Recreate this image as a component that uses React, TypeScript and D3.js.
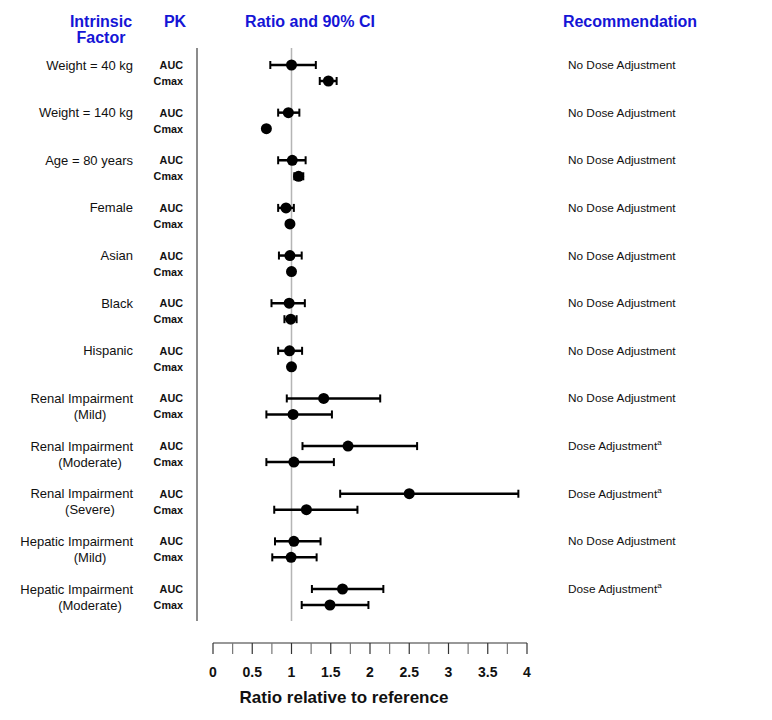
import React, { useEffect, useRef } from 'react';
import * as d3 from 'd3';

// Intrinsic factors (multi-line labels split by \n)
const factors = [
  'Weight = 40 kg',
  'Weight = 140 kg',
  'Age = 80 years',
  'Female',
  'Asian',
  'Black',
  'Hispanic',
  'Renal Impairment\n(Mild)',
  'Renal Impairment\n(Moderate)',
  'Renal Impairment\n(Severe)',
  'Hepatic Impairment\n(Mild)',
  'Hepatic Impairment\n(Moderate)',
];

const aucRatio = [1.0, 0.96, 1.01, 0.93, 0.98, 0.97, 0.975, 1.41, 1.72, 2.5, 1.03, 1.65];
const aucLow = [0.73, 0.83, 0.83, 0.83, 0.84, 0.745, 0.83, 0.94, 1.14, 1.62, 0.79, 1.26];
const aucHigh = [1.31, 1.1, 1.18, 1.03, 1.13, 1.17, 1.135, 2.13, 2.6, 3.89, 1.37, 2.17];

const cmaxRatio = [1.47, 0.68, 1.09, 0.98, 1.0, 0.99, 1.0, 1.02, 1.03, 1.19, 0.995, 1.49];
const cmaxLow = [1.36, 0.66, 1.035, 0.96, 0.97, 0.91, 0.97, 0.68, 0.68, 0.78, 0.755, 1.13];
const cmaxHigh = [1.575, 0.7, 1.15, 1.0, 1.02, 1.065, 1.02, 1.515, 1.54, 1.84, 1.32, 1.98];

const recommendations = [
  'No Dose Adjustment',
  'No Dose Adjustment',
  'No Dose Adjustment',
  'No Dose Adjustment',
  'No Dose Adjustment',
  'No Dose Adjustment',
  'No Dose Adjustment',
  'No Dose Adjustment',
  'Dose Adjustment',
  'Dose Adjustment',
  'No Dose Adjustment',
  'Dose Adjustment',
];
const footnote = [false, false, false, false, false, false, false, false, true, true, false, true];

const majorTicks = [0, 0.5, 1, 1.5, 2, 2.5, 3, 3.5, 4];
const minorTicks = d3.range(0, 4.01, 0.25);

const FONT = "'Liberation Sans', Arial, Helvetica, sans-serif";
const BLUE = '#1515d6';

const App: React.FC = () => {
  const svgRef = useRef<SVGSVGElement>(null);

  useEffect(() => {
    const svg = d3.select(svgRef.current);
    svg.selectAll('*').remove();

    const x = d3.scaleLinear().domain([0, 4]).range([213, 527]);
    const y = d3.scaleLinear().domain([0, factors.length - 1]).range([65, 589]);
    const cmaxOffset = 16;
    const capH = 4;

    // Headers
    const header = (txt: string, cx: number, cy: number) =>
      svg.append('text')
        .attr('x', cx)
        .attr('y', cy)
        .attr('text-anchor', 'middle')
        .style('font-family', FONT)
        .style('font-size', '16px')
        .style('font-weight', 'bold')
        .style('fill', BLUE)
        .text(txt);
    header('Intrinsic', 101, 27);
    header('Factor', 101, 43);
    header('PK', 175, 27);
    header('Ratio and 90% CI', 310, 27);
    header('Recommendation', 630, 27);

    // Separator line and reference line
    svg.append('line')
      .attr('x1', 197).attr('x2', 197)
      .attr('y1', 48).attr('y2', 621)
      .attr('stroke', '#8c8c8c')
      .attr('stroke-width', 2);

    svg.append('line')
      .attr('x1', x(1)).attr('x2', x(1))
      .attr('y1', 48).attr('y2', 621)
      .attr('stroke', '#b5b5b5')
      .attr('stroke-width', 1.5);

    // Factor labels
    factors.forEach((f, i) => {
      const lines = f.split('\n');
      svg.append('text')
        .attr('x', 133)
        .attr('y', y(i) + 4.5)
        .attr('text-anchor', 'end')
        .style('font-family', FONT)
        .style('font-size', '13px')
        .style('fill', '#111')
        .text(lines[0]);
      if (lines.length > 1) {
        svg.append('text')
          .attr('x', 90)
          .attr('y', y(i) + cmaxOffset + 4.5)
          .attr('text-anchor', 'middle')
          .style('font-family', FONT)
          .style('font-size', '13px')
          .style('fill', '#111')
          .text(lines[1]);
      }
      ['AUC', 'Cmax'].forEach((pk, k) => {
        svg.append('text')
          .attr('x', 183)
          .attr('y', y(i) + k * cmaxOffset + 4)
          .attr('text-anchor', 'end')
          .style('font-family', FONT)
          .style('font-size', '10.8px')
          .style('font-weight', 'bold')
          .style('fill', '#111')
          .text(pk);
      });

      // Recommendation
      const rec = svg.append('text')
        .attr('x', 568)
        .attr('y', y(i) + 4)
        .style('font-family', FONT)
        .style('font-size', '11.8px')
        .style('fill', '#111')
        .text(recommendations[i]);
      if (footnote[i]) {
        rec.append('tspan')
          .attr('dy', -5)
          .style('font-size', '8px')
          .text('a');
      }
    });

    // CI bars and points
    const drawCI = (yy: number, lo: number, hi: number, r: number) => {
      const g = svg.append('g');
      g.append('line')
        .attr('x1', x(lo)).attr('x2', x(hi))
        .attr('y1', yy).attr('y2', yy)
        .attr('stroke', '#000').attr('stroke-width', 2.5);
      [lo, hi].forEach(v => {
        g.append('line')
          .attr('x1', x(v)).attr('x2', x(v))
          .attr('y1', yy - capH).attr('y2', yy + capH)
          .attr('stroke', '#000').attr('stroke-width', 2);
      });
      g.append('circle')
        .attr('cx', x(r)).attr('cy', yy)
        .attr('r', 5.5)
        .attr('fill', '#000');
    };

    factors.forEach((_, i) => {
      drawCI(y(i), aucLow[i], aucHigh[i], aucRatio[i]);
      drawCI(y(i) + cmaxOffset, cmaxLow[i], cmaxHigh[i], cmaxRatio[i]);
    });

    // X axis
    const axisY = 643;
    svg.append('line')
      .attr('x1', x(0)).attr('x2', x(4))
      .attr('y1', axisY).attr('y2', axisY)
      .attr('stroke', '#333').attr('stroke-width', 1.2);
    svg.selectAll('.tick')
      .data(minorTicks)
      .enter()
      .append('line')
      .attr('x1', d => x(d)).attr('x2', d => x(d))
      .attr('y1', axisY).attr('y2', axisY + 11)
      .attr('stroke', (d, idx) => (idx % 2 === 0 ? '#333' : '#777'))
      .attr('stroke-width', 1.2);
    svg.selectAll('.tick-label')
      .data(majorTicks)
      .enter()
      .append('text')
      .attr('x', d => x(d))
      .attr('y', 677)
      .attr('text-anchor', 'middle')
      .style('font-family', FONT)
      .style('font-size', '14px')
      .style('font-weight', 'bold')
      .style('fill', '#111')
      .text(d => String(d));

    svg.append('text')
      .attr('x', 344)
      .attr('y', 703)
      .attr('text-anchor', 'middle')
      .style('font-family', FONT)
      .style('font-size', '17px')
      .style('font-weight', 'bold')
      .style('fill', '#111')
      .text('Ratio relative to reference');
  }, []);

  return (
    <svg
      ref={svgRef}
      width={772}
      height={720}
      style={{ position: 'absolute', left: 0, top: 0, background: '#fff' }}
    />
  );
};

export default App;
